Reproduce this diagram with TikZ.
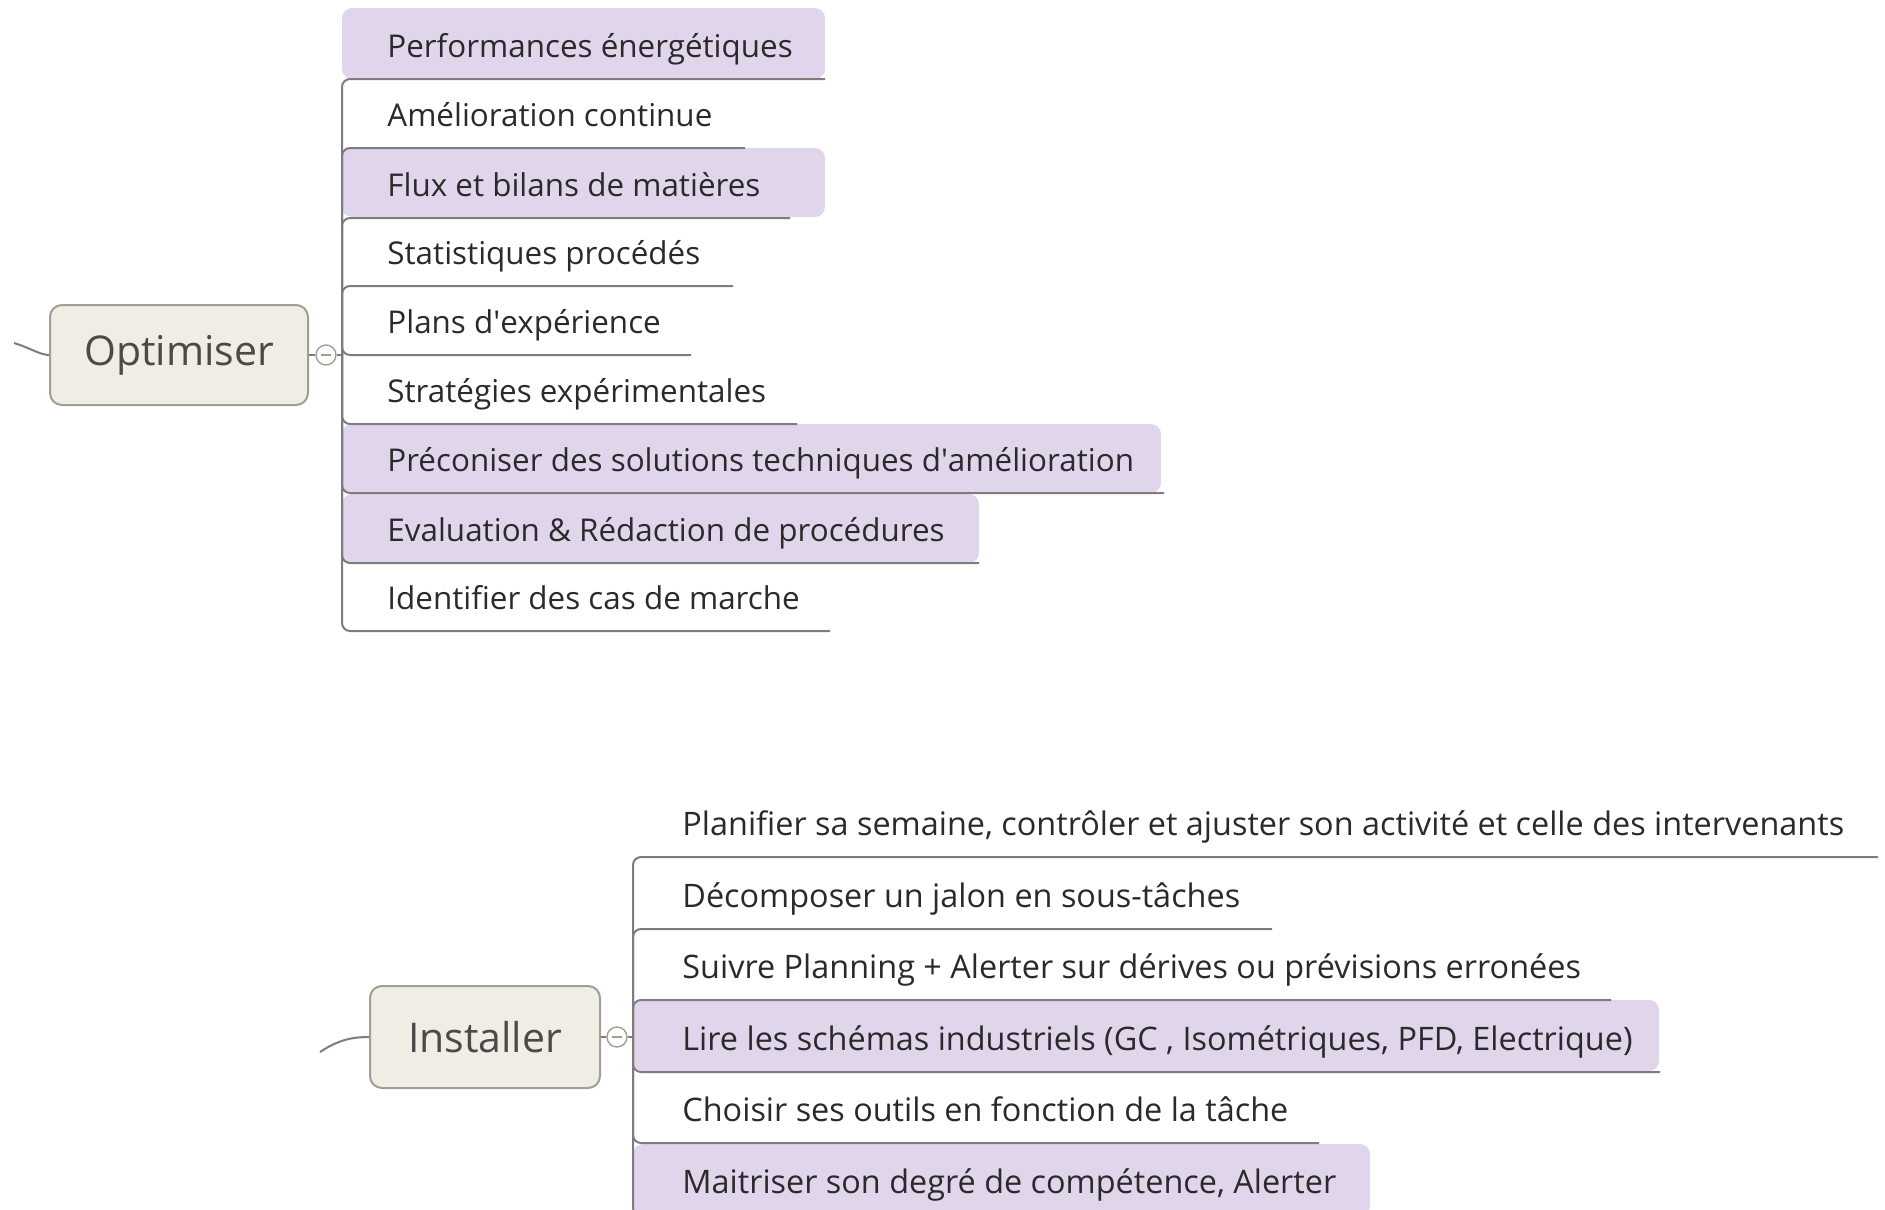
\documentclass[tikz,border=0pt]{standalone}
\usepackage{fontspec}
\setmainfont{Open Sans}
\usepackage{xcolor}
\usepackage{tikz}
\usetikzlibrary{positioning}

\definecolor{hlpurple}{HTML}{E1D5EC}
\definecolor{topicfill}{HTML}{EFEDE4}
\definecolor{topicline}{HTML}{A19E94}
\definecolor{linegray}{HTML}{7D7D7D}
\definecolor{textgray}{HTML}{2A2A2A}

\begin{document}
\begin{tikzpicture}[
  x=0.5pt, y=-0.5pt,
  topic/.style={draw=topicline, line width=1pt, fill=topicfill,
                rounded corners=6pt, inner sep=0pt, text=textgray!85,
                font=\fontsize{20.5}{24}\selectfont},
  item/.style={anchor=base west, inner sep=0pt, text=textgray,
               font=\fontsize{15.7}{18}\selectfont},
  bigitem/.style={item, font=\fontsize{16.2}{19}\selectfont},
  hl/.style={fill=hlpurple, rounded corners=5pt},
  branch/.style={draw=linegray, line width=1pt, rounded corners=4pt},
  toggle/.style={circle, draw=topicline, fill=white, line width=0.7pt,
                 minimum size=10pt, inner sep=0pt,
                 path picture={\draw[topicline, line width=0.7pt]
                   ([xshift=-2.6pt]path picture bounding box.center) --
                   ([xshift=2.6pt]path picture bounding box.center);}},
]
\useasboundingbox (0,0) rectangle (1885,1210);
\clip (0,0) rectangle (1885,1210);

% ---------------- highlighted rows ----------------
\fill[hl] (342,8) rectangle (825,79);
\fill[hl] (342,148) rectangle (825,217);
\fill[hl] (342,424) rectangle (1161,493);
\fill[hl] (342,494) rectangle (979,563);
\fill[hl] (633,1000) rectangle (1659,1071);
\fill[hl] (633,1144) rectangle (1370,1216);

% ---------------- Optimiser ----------------
\node[topic, minimum width=129pt, minimum height=50pt] (opt) at (179,355) {Optimiser};
\node[toggle] (otog) at (326,355) {};
\coordinate (oj) at (342,355);
\coordinate (ostub) at (14,343);
\draw[branch] (ostub) .. controls (28,347) and (40,355) .. (opt.west);
\draw[branch] (opt) -- (otog);
\draw[branch] (otog) -- (oj);

\node[item] (o1) at (387,57) {Performances énergétiques};
\coordinate (o1e) at (825,79);
\draw[branch] (oj) |- (o1e);
\node[item] (o2) at (387,126) {Amélioration continue};
\coordinate (o2e) at (745,148);
\draw[branch] (oj) |- (o2e);
\node[item] (o3) at (387,196) {Flux et bilans de matières};
\coordinate (o3e) at (790,218);
\draw[branch] (oj) |- (o3e);
\node[item] (o4) at (387,264) {Statistiques procédés};
\coordinate (o4e) at (733,286);
\draw[branch] (oj) |- (o4e);
\node[item] (o5) at (387,333) {Plans d\textquotesingle expérience};
\coordinate (o5e) at (691,355);
\draw[branch] (oj) |- (o5e);
\node[item] (o6) at (387,402) {Stratégies expérimentales};
\coordinate (o6e) at (797,424);
\draw[branch] (oj) |- (o6e);
\node[item] (o7) at (387,471) {Préconiser des solutions techniques d\textquotesingle amélioration};
\coordinate (o7e) at (1164,493);
\draw[branch] (oj) |- (o7e);
\node[item] (o8) at (387,541) {Evaluation \& Rédaction de procédures};
\coordinate (o8e) at (979,563);
\draw[branch] (oj) |- (o8e);
\node[item] (o9) at (387,609) {Identifier des cas de marche};
\coordinate (o9e) at (830,631);
\draw[branch] (oj) |- (o9e);

% ---------------- Installer ----------------
\node[topic, minimum width=115pt, minimum height=51pt] (inst) at (485,1037) {Installer};
\node[toggle] (itog) at (617,1037) {};
\coordinate (ij) at (633,1037);
\coordinate (istub) at (320,1052);
\draw[branch] (istub) .. controls (338,1040) and (352,1037) .. (inst.west);
\draw[branch] (inst) -- (itog);
\draw[branch] (itog) -- (ij);

\node[bigitem] (i1) at (682,835) {Planifier sa semaine, contrôler et ajuster son activité et celle des intervenants};
\coordinate (i1e) at (1878,857);
\draw[branch] (ij) |- (i1e);
\node[bigitem] (i2) at (682,907) {Décomposer un jalon en sous-tâches};
\coordinate (i2e) at (1272,929);
\draw[branch] (ij) |- (i2e);
\node[bigitem] (i3) at (682,978) {Suivre Planning + Alerter sur dérives ou prévisions erronées};
\coordinate (i3e) at (1611,1000);
\draw[branch] (ij) |- (i3e);
\node[bigitem] (i4) at (682,1050) {Lire les schémas industriels (GC , Isométriques, PFD, Electrique)};
\coordinate (i4e) at (1660,1072);
\draw[branch] (ij) |- (i4e);
\node[bigitem] (i5) at (682,1121) {Choisir ses outils en fonction de la tâche};
\coordinate (i5e) at (1319,1143);
\draw[branch] (ij) |- (i5e);
\node[bigitem] (i6) at (682,1193) {Maitriser son degré de compétence, Alerter};
\coordinate (i6e) at (1370,1216);
\draw[branch] (ij) |- (i6e);
\end{tikzpicture}
\end{document}
